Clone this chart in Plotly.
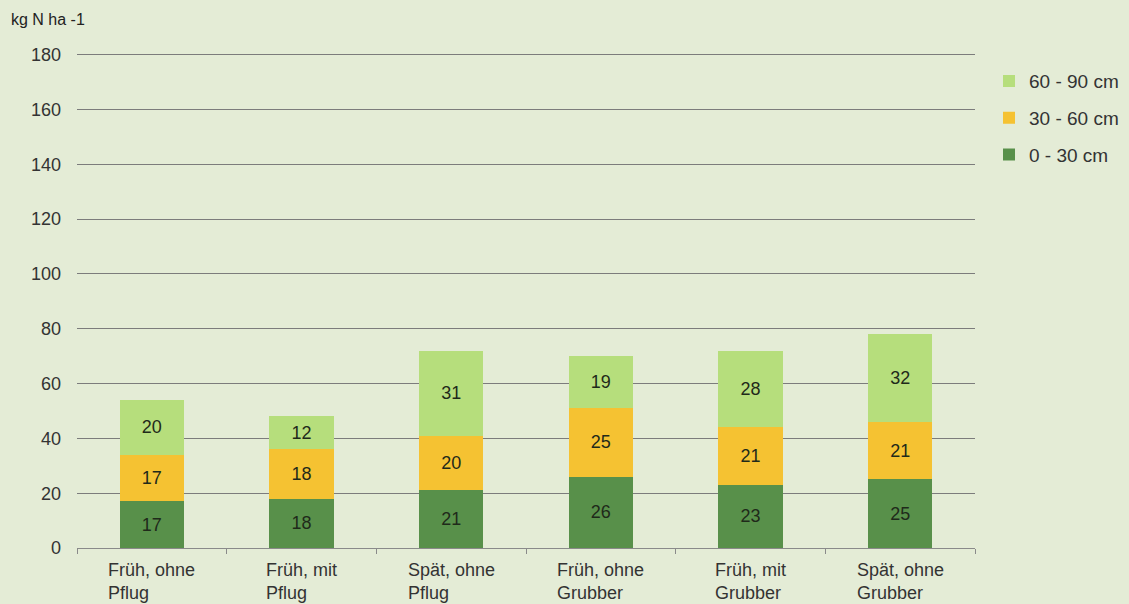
import plotly.graph_objects as go

categories = ["Früh, ohne<br>Pflug", "Früh, mit<br>Pflug", "Spät, ohne<br>Pflug",
              "Früh, ohne<br>Grubber", "Früh, mit<br>Grubber", "Spät, ohne<br>Grubber"]
cat_ids = ["c1", "c2", "c3", "c4", "c5", "c6"]
v_0_30 = [17, 18, 21, 26, 23, 25]
v_30_60 = [17, 18, 20, 25, 21, 21]
v_60_90 = [20, 12, 31, 19, 28, 32]
y_ticks = [0, 20, 40, 60, 80, 100, 120, 140, 160, 180]

BG = "#e4ecd6"
FONT = "Liberation Sans, Arial, sans-serif"

fig = go.Figure()
series = [("0 - 30 cm", v_0_30, "#58904a", 3),
          ("30 - 60 cm", v_30_60, "#f5c232", 2),
          ("60 - 90 cm", v_60_90, "#b6de7c", 1)]
for name, vals, col, rank in series:
    fig.add_trace(go.Bar(
        x=cat_ids, y=vals, name=name, legendgroup=name, legendrank=rank,
        marker=dict(color=col, line=dict(width=0)),
        text=[str(v) for v in vals], textposition="inside",
        insidetextanchor="middle", textangle=0,
        textfont=dict(family=FONT, size=18, color="#1f2a1a"),
        width=0.43,
    ))

for cid, lab in zip(cat_ids, categories):
    fig.add_annotation(x=cid, y=0, xref="x", yref="y", text=lab, showarrow=False,
                       align="left", yanchor="top", yshift=-10,
                       font=dict(family=FONT, size=18, color="#333333"))

fig.add_annotation(x=0, y=1, xref="paper", yref="paper", xanchor="left", yanchor="bottom",
                   xshift=-68, yshift=22, text="kg N ha -1", showarrow=False,
                   font=dict(family=FONT, size=16, color="#222222"))

fig.update_layout(
    width=1129, height=604,
    barmode="stack",
    paper_bgcolor=BG, plot_bgcolor=BG,
    margin=dict(l=77, r=154, t=52, b=56, autoexpand=False),
    font=dict(family=FONT, size=18, color="#333333"),
    showlegend=True,
    legend=dict(xref="container", yref="container", x=0.876, y=0.897,
                xanchor="left", yanchor="top",
                traceorder="grouped", tracegroupgap=9,
                font=dict(family=FONT, size=19, color="#333333"),
                bgcolor="rgba(0,0,0,0)", itemwidth=30),
)
fig.update_xaxes(type="category", showticklabels=False, showline=True, linecolor="#8a8a8a",
                 linewidth=1, ticks="outside", tickson="boundaries", ticklen=5,
                 tickcolor="#8a8a8a", showgrid=False, range=[-0.5, 5.5])
fig.update_yaxes(range=[0, 181], tickvals=y_ticks, showgrid=True, gridcolor="#7c7c7c",
                 gridwidth=1, zeroline=False, showline=False, ticks="",
                 ticklabelstandoff=15,
                 tickfont=dict(family=FONT, size=18, color="#333333"))

fig.write_html("out.html", config={"displayModeBar": False},
               post_script="document.body.style.margin='0';document.body.style.overflow='hidden';")
